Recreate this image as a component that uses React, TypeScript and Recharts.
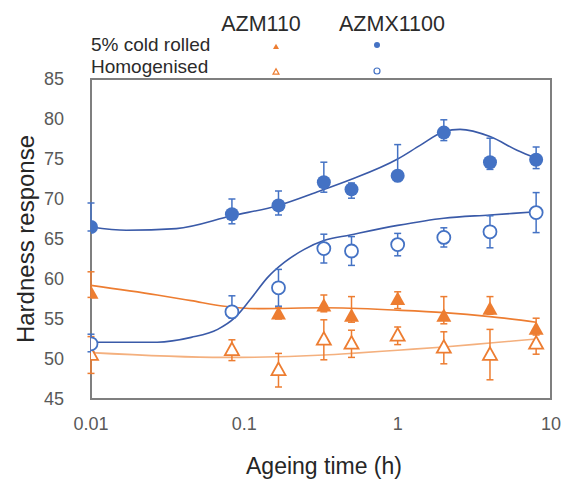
import React from "react";
import {
  ComposedChart,
  Line,
  Scatter,
  ErrorBar,
  XAxis,
  YAxis,
  ReferenceArea,
  Label,
} from "recharts";

// ageing times (h)
const TIMES = [0.01, 0.083, 0.167, 0.33, 0.5, 1, 2, 4, 8];
const TIMES_M_COLD = [0.01, 0.167, 0.33, 0.5, 1, 2, 4, 8];

// AZMX1100, 5% cold rolled
const X_COLD = [66.5, 68.1, 69.2, 72.1, 71.2, 72.9, 78.3, 74.6, 74.9];
const X_COLD_LO = [0.5, 1.2, 1.2, 1.25, 1.1, 0.7, 1.0, 0.9, 1.1];
const X_COLD_HI = [3.0, 1.9, 1.8, 2.5, 0.8, 3.9, 1.6, 3.0, 1.6];

// AZMX1100, homogenised
const X_HOM = [51.9, 55.9, 58.9, 63.8, 63.5, 64.3, 65.2, 65.9, 68.3];
const X_HOM_LO = [1.0, 0.8, 2.3, 1.8, 1.8, 1.4, 1.2, 2.0, 2.5];
const X_HOM_HI = [1.2, 2.0, 2.3, 1.8, 1.8, 1.4, 1.2, 2.0, 2.5];

// AZM110, 5% cold rolled
const M_COLD = [58.2, 55.6, 56.6, 55.3, 57.4, 55.3, 56.2, 53.7];
const M_COLD_LO = [0.5, 0.6, 0.7, 0.7, 1.1, 0.9, 0.6, 0.7];
const M_COLD_HI = [2.7, 0.8, 1.4, 2.5, 1.0, 2.5, 1.6, 1.4];

// AZM110, homogenised
const M_HOM = [50.5, 51.1, 48.6, 52.4, 51.9, 52.9, 51.4, 50.5, 51.9];
const M_HOM_LO = [2.3, 1.3, 2.1, 2.5, 1.7, 1.1, 2.0, 3.1, 1.3];
const M_HOM_HI = [2.3, 1.3, 2.1, 2.5, 1.7, 1.1, 2.0, 3.2, 1.3];

// fitted trend curves
const FIT_X_COLD_T = [0.01, 0.017, 0.036, 0.083, 0.167, 0.31, 0.49, 1.0, 1.4, 2.0, 2.55, 4, 6, 8];
const FIT_X_COLD_V = [66.5, 66.1, 66.3, 67.9, 69.2, 71.0, 72.4, 75.0, 76.7, 78.4, 78.7, 77.8, 76.1, 75.1];
const FIT_X_HOM_T = [0.01, 0.027, 0.045, 0.067, 0.086, 0.11, 0.142, 0.183, 0.246, 0.33, 0.49, 1, 2, 4, 8];
const FIT_X_HOM_V = [52.1, 52.1, 52.7, 53.7, 55.1, 57.5, 60.2, 62.1, 63.7, 64.8, 65.5, 66.7, 67.6, 68.0, 68.4];
const FIT_M_COLD_T = [0.01, 0.027, 0.045, 0.074, 0.122, 0.33, 1, 2, 4, 8];
const FIT_M_COLD_V = [59.2, 58.0, 57.3, 56.6, 56.3, 56.4, 56.1, 55.8, 55.3, 54.6];
const FIT_M_HOM_T = [0.01, 0.074, 0.33, 0.5, 1, 2, 4, 8];
const FIT_M_HOM_V = [50.8, 50.2, 50.5, 50.7, 51.1, 51.5, 52.0, 52.5];

const X_TICKS = [0.01, 0.1, 1, 10];
const Y_TICKS = [45, 50, 55, 60, 65, 70, 75, 80, 85];

const BLUE = "#4472C4";
const BLUE_LINE = "#3a5aa8";
const ORANGE = "#ED7D31";
const ORANGE_LIGHT = "#F4B07E";
const FONT = "'Liberation Sans', Arial, sans-serif";

const points = (t: number[], v: number[], lo: number[], hi: number[]) =>
  t.map((x, i) => ({ t: x, v: v[i], err: [lo[i], hi[i]] }));
const curve = (t: number[], v: number[]) => t.map((x, i) => ({ t: x, v: v[i] }));

const filledCircle = (p: any) => <circle cx={p.cx} cy={p.cy} r={7} fill={BLUE} />;
const openCircle = (p: any) => (
  <circle cx={p.cx} cy={p.cy} r={6.5} fill="#fff" stroke={BLUE} strokeWidth={1.8} />
);
const tri = (cx: number, cy: number, s: number) =>
  `${cx},${cy - s * 1.1} ${cx - s},${cy + s * 0.7} ${cx + s},${cy + s * 0.7}`;
const filledTri = (p: any) => <polygon points={tri(p.cx, p.cy, 7.5)} fill={ORANGE} />;
const openTri = (p: any) => (
  <polygon points={tri(p.cx, p.cy, 7)} fill="#fff" stroke={ORANGE} strokeWidth={1.8} />
);

function Header() {
  const txt = { fontFamily: FONT, fill: "#2b2b2b" };
  return (
    <svg width={571} height={90} style={{ position: "absolute", left: 0, top: 0 }}>
      <text x={261} y={31} textAnchor="middle" fontSize={21.5} {...txt}>AZM110</text>
      <text x={392} y={31} textAnchor="middle" fontSize={21.5} {...txt}>AZMX1100</text>
      <text x={91} y={51} fontSize={19} {...txt}>5% cold rolled</text>
      <text x={91} y={73} fontSize={19} {...txt}>Homogenised</text>
      <polygon points={tri(276, 47, 3)} fill={ORANGE} />
      <circle cx={377} cy={45} r={3} fill={BLUE} />
      <polygon points={tri(276, 72, 3)} fill="#fff" stroke={ORANGE} strokeWidth={1.2} />
      <circle cx={377} cy={71} r={3} fill="#fff" stroke={BLUE} strokeWidth={1.2} />
    </svg>
  );
}

export default function App() {
  const tick = { fill: "#595959", fontSize: 18, fontFamily: FONT };
  return (
    <div style={{ position: "absolute", left: 0, top: 0, width: 571, height: 479, background: "#fff" }}>
      <ComposedChart width={571} height={479} margin={{ top: 79, right: 20, bottom: 0, left: 0 }}>
        <XAxis
          dataKey="t"
          type="number"
          scale="log"
          domain={[0.01, 10]}
          ticks={X_TICKS}
          tickFormatter={(v: number) => String(v)}
          allowDataOverflow
          axisLine={false}
          tickLine={false}
          tickMargin={12}
          tick={tick}
          height={80}
        >
          <Label
            value="Ageing time (h)"
            position="insideBottom"
            offset={5}
            dx={3}
            style={{ fontSize: 23, fontFamily: FONT, fill: "#262626" }}
          />
        </XAxis>
        <YAxis
          dataKey="v"
          type="number"
          domain={[45, 85]}
          ticks={Y_TICKS}
          allowDataOverflow
          axisLine={false}
          tickLine={false}
          tickMargin={21}
          tick={tick}
          width={91}
        >
          <Label
            value="Hardness response"
            angle={-90}
            position="insideLeft"
            offset={25}
            style={{ fontSize: 24, fontFamily: FONT, fill: "#262626", textAnchor: "middle" }}
          />
        </YAxis>
        <ReferenceArea x1={0.01} x2={10} y1={45} y2={85} fill="none" stroke="#7f7f7f" strokeWidth={2} />

        <Line data={curve(FIT_M_HOM_T, FIT_M_HOM_V)} dataKey="v" type="monotone" stroke={ORANGE_LIGHT} strokeWidth={1.6} dot={false} isAnimationActive={false} />
        <Line data={curve(FIT_M_COLD_T, FIT_M_COLD_V)} dataKey="v" type="monotone" stroke={ORANGE} strokeWidth={1.6} dot={false} isAnimationActive={false} />
        <Line data={curve(FIT_X_HOM_T, FIT_X_HOM_V)} dataKey="v" type="monotone" stroke={BLUE_LINE} strokeWidth={1.6} dot={false} isAnimationActive={false} />
        <Line data={curve(FIT_X_COLD_T, FIT_X_COLD_V)} dataKey="v" type="monotone" stroke={BLUE_LINE} strokeWidth={1.6} dot={false} isAnimationActive={false} />

        <Scatter data={points(TIMES, M_HOM, M_HOM_LO, M_HOM_HI)} dataKey="v" shape={openTri} isAnimationActive={false}>
          <ErrorBar dataKey="err" direction="y" width={3.5} stroke={ORANGE} strokeWidth={1.5} />
        </Scatter>
        <Scatter data={points(TIMES_M_COLD, M_COLD, M_COLD_LO, M_COLD_HI)} dataKey="v" shape={filledTri} isAnimationActive={false}>
          <ErrorBar dataKey="err" direction="y" width={3.5} stroke={ORANGE} strokeWidth={1.5} />
        </Scatter>
        <Scatter data={points(TIMES, X_HOM, X_HOM_LO, X_HOM_HI)} dataKey="v" shape={openCircle} isAnimationActive={false}>
          <ErrorBar dataKey="err" direction="y" width={3.5} stroke={BLUE} strokeWidth={1.5} />
        </Scatter>
        <Scatter data={points(TIMES, X_COLD, X_COLD_LO, X_COLD_HI)} dataKey="v" shape={filledCircle} isAnimationActive={false}>
          <ErrorBar dataKey="err" direction="y" width={3.5} stroke={BLUE} strokeWidth={1.5} />
        </Scatter>
      </ComposedChart>
      <Header />
    </div>
  );
}
